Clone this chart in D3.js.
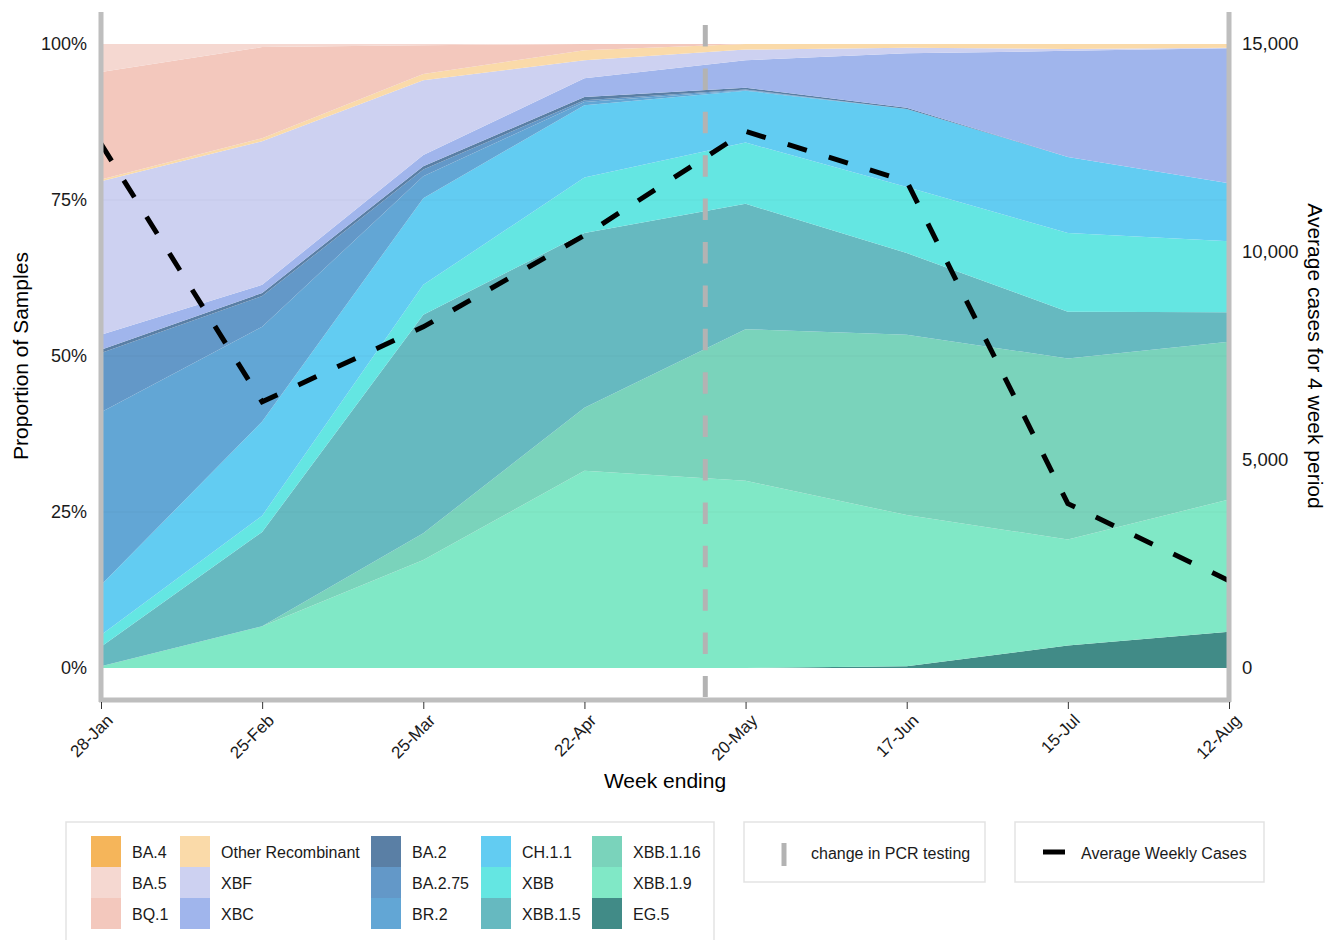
<!DOCTYPE html>
<html>
<head>
<meta charset="utf-8">
<script src="https://cdn.jsdelivr.net/npm/d3@7"></script>
<style>
  body { margin: 0; background: #fff; }
  svg { font-family: "Liberation Sans", Arial, sans-serif; }
</style>
</head>
<body>
<div id="chart"></div>
<script>
// Data
const weeks = ['2023-01-28', '2023-02-25', '2023-03-25', '2023-04-22', '2023-05-20', '2023-06-17', '2023-07-15', '2023-08-12'];
const pcr_change = '2023-05-13';

// legend order (top of stack first)
const variants = ['BA.4', 'BA.5', 'BQ.1', 'Other Recombinant', 'XBF', 'XBC', 'BA.2', 'BA.2.75', 'BR.2', 'CH.1.1', 'XBB', 'XBB.1.5', 'XBB.1.16', 'XBB.1.9', 'EG.5'];
const colours = ['#f5b55a', '#f5d8d1', '#f3c8bd', '#fadaa9', '#cdd1f1', '#a0b5ec', '#5a7fa5', '#6398c8', '#62a6d5', '#62ccf2', '#64e6e2', '#66b9c0', '#7ad3bb', '#80e8c6', '#418b87'];

// share of samples (%) per week
const ba4     = [0, 0, 0, 0, 0, 0, 0, 0];
const ba5     = [4.5, 0.5, 0.2, 0, 0, 0, 0, 0];
const bq1     = [17.2, 14.6, 4.6, 1.0, 0, 0, 0, 0];
const other   = [0.3, 0.5, 1.0, 1.6, 0.9, 0.6, 0.8, 0.6];
const xbf     = [24.6, 23.0, 12.0, 2.9, 1.7, 0.9, 0.3, 0.1];
const xbc     = [2.4, 1.3, 1.8, 3.0, 4.4, 8.7, 17.0, 21.6];
const ba2     = [0.5, 0.5, 0.5, 0.5, 0.3, 0.2, 0, 0];
const ba275   = [9.5, 4.9, 1.1, 0.3, 0.1, 0, 0, 0];
const br2     = [27.7, 15.2, 3.5, 0.5, 0.1, 0, 0, 0];
const ch11    = [8.0, 15.1, 13.9, 11.6, 8.3, 12.5, 12.2, 9.3];
const xbb     = [1.9, 2.6, 4.8, 8.9, 9.8, 10.6, 12.6, 11.4];
const xbb15   = [3.1, 15.1, 35.0, 28.0, 20.1, 13.1, 7.5, 4.7];
const xbb116  = [0, 0, 4.3, 10.1, 24.3, 28.9, 29.0, 25.3];
const xbb19   = [0.3, 6.7, 17.3, 31.6, 30.0, 24.2, 17.0, 21.2];
const eg5     = [0, 0, 0, 0, 0, 0.3, 3.6, 5.8];

const shares = [ba4, ba5, bq1, other, xbf, xbc, ba2, ba275, br2, ch11, xbb, xbb15, xbb116, xbb19, eg5];

const cases = [12600, 6400, 8200, 10400, 12900, 11700, 3950, 2100];

const y_ticks = [0, 0.25, 0.5, 0.75, 1];
const y2_ticks = [0, 5000, 10000, 15000];

const chart_width = 1326;
const chart_height = 940;

const parse = d3.timeParse('%Y-%m-%d');
const fmt = d3.timeFormat('%-d-%b');

const table = weeks.map((w, i) => {
    const row = { date: parse(w) };
    variants.forEach((v, j) => row[v] = shares[j][i] / 100);
    return row;
});

const svg = d3.select('#chart')
    .append('svg')
    .attr('width', chart_width)
    .attr('height', chart_height);

// Scales
const x_scale = d3.scaleTime()
    .domain(d3.extent(table, d => d.date))
    .range([101, 1229]);

const y_scale = d3.scaleLinear()
    .domain([0, 1])
    .range([668, 44]);

const y2_scale = d3.scaleLinear()
    .domain([0, 15000])
    .range([668, 44]);

// Stacked areas (EG.5 at the bottom)
const stack = d3.stack().keys(variants.slice().reverse());
const layers = stack(table);
const colour = d3.scaleOrdinal().domain(variants).range(colours);

const area = d3.area()
    .x(d => x_scale(d.data.date))
    .y0(d => y_scale(d[0]))
    .y1(d => y_scale(d[1]));

svg.append('g')
    .selectAll('path')
    .data(layers)
    .enter()
    .append('path')
    .attr('d', area)
    .attr('fill', d => colour(d.key));

// faint grid
svg.append('g')
    .selectAll('line')
    .data([0.25, 0.5, 0.75])
    .enter()
    .append('line')
    .attr('x1', 101).attr('x2', 1229)
    .attr('y1', d => y_scale(d)).attr('y2', d => y_scale(d))
    .attr('stroke', '#000')
    .attr('stroke-opacity', 0.03);

// change in PCR testing
svg.append('line')
    .attr('x1', x_scale(parse(pcr_change)))
    .attr('x2', x_scale(parse(pcr_change)))
    .attr('y1', 25)
    .attr('y2', 697)
    .attr('stroke', '#b3b3b3')
    .attr('stroke-width', 5)
    .attr('stroke-dasharray', '21.5,21.9');

// Average weekly cases
const line = d3.line()
    .x((d, i) => x_scale(table[i].date))
    .y(d => y2_scale(d));

svg.append('path')
    .datum(cases)
    .attr('d', line)
    .attr('fill', 'none')
    .attr('stroke', '#000')
    .attr('stroke-width', 5)
    .attr('stroke-dasharray', '20,23');

// Axes frame
const frame = svg.append('g')
    .attr('stroke', '#bebebe')
    .attr('stroke-width', 5);
frame.append('line').attr('x1', 101).attr('x2', 101).attr('y1', 12).attr('y2', 702);
frame.append('line').attr('x1', 1229).attr('x2', 1229).attr('y1', 12).attr('y2', 702);
frame.append('line').attr('x1', 99).attr('x2', 1231).attr('y1', 700).attr('y2', 700);

// X axis
const x_axis = d3.axisBottom(x_scale)
    .tickValues(table.map(d => d.date))
    .tickFormat(fmt)
    .tickSize(7)
    .tickSizeOuter(0);

const gx = svg.append('g')
    .attr('transform', 'translate(0, 702)')
    .call(x_axis);
gx.select('.domain').remove();
gx.selectAll('.tick line').attr('stroke', '#333');
gx.selectAll('.tick text')
    .attr('font-size', 17)
    .attr('fill', '#1a1a1a')
    .attr('text-anchor', 'end')
    .attr('transform', 'translate(1, 8) rotate(-45)')
    .attr('dy', '0.6em')
    .attr('y', 6);

// Left axis
const y_axis = d3.axisLeft(y_scale)
    .tickValues(y_ticks)
    .tickFormat(d3.format('.0%'))
    .tickSize(0)
    .tickPadding(14);

const gy = svg.append('g')
    .attr('transform', 'translate(101, 0)')
    .call(y_axis);
gy.select('.domain').remove();
gy.selectAll('text').attr('font-size', 18).attr('fill', '#1a1a1a');

// Right axis
const y2_axis = d3.axisRight(y2_scale)
    .tickValues(y2_ticks)
    .tickFormat(d3.format(','))
    .tickSize(0)
    .tickPadding(13);

const gy2 = svg.append('g')
    .attr('transform', 'translate(1229, 0)')
    .call(y2_axis);
gy2.select('.domain').remove();
gy2.selectAll('text').attr('font-size', 18.5).attr('fill', '#1a1a1a');

// Titles
svg.append('text')
    .attr('x', 665).attr('y', 788)
    .attr('text-anchor', 'middle')
    .attr('font-size', 21)
    .attr('fill', '#000')
    .text('Week ending');

svg.append('text')
    .attr('transform', 'translate(28, 356) rotate(-90)')
    .attr('text-anchor', 'middle')
    .attr('font-size', 21)
    .attr('fill', '#000')
    .text('Proportion of Samples');

svg.append('text')
    .attr('transform', 'translate(1308, 356) rotate(90)')
    .attr('text-anchor', 'middle')
    .attr('font-size', 21)
    .attr('fill', '#000')
    .text('Average cases for 4 week period');

// Legend: variants
const legend = svg.append('g');
legend.append('rect')
    .attr('x', 66).attr('y', 822)
    .attr('width', 648).attr('height', 130)
    .attr('fill', '#fff')
    .attr('stroke', '#e3e3e3')
    .attr('stroke-width', 1.5);

const col_x = [91, 180, 371, 481, 592];
const item = legend.selectAll('g.item')
    .data(variants)
    .enter()
    .append('g')
    .attr('class', 'item')
    .attr('transform', (d, i) => `translate(${col_x[Math.floor(i / 3)]}, ${836 + (i % 3) * 31})`);

item.append('rect')
    .attr('width', 30)
    .attr('height', 31)
    .attr('fill', d => colour(d));

item.append('text')
    .attr('x', 41)
    .attr('y', 16)
    .attr('dy', '0.35em')
    .attr('font-size', 16)
    .attr('fill', '#1a1a1a')
    .text(d => d);

// Legend: PCR
svg.append('rect')
    .attr('x', 744).attr('y', 822)
    .attr('width', 241).attr('height', 60)
    .attr('fill', '#fff')
    .attr('stroke', '#e3e3e3')
    .attr('stroke-width', 1.5);
svg.append('line')
    .attr('x1', 784).attr('x2', 784)
    .attr('y1', 843).attr('y2', 866)
    .attr('stroke', '#b3b3b3')
    .attr('stroke-width', 5);
svg.append('text')
    .attr('x', 811).attr('y', 853)
    .attr('dy', '0.35em')
    .attr('font-size', 16)
    .attr('fill', '#1a1a1a')
    .text('change in PCR testing');

// Legend: cases
svg.append('rect')
    .attr('x', 1015).attr('y', 822)
    .attr('width', 249).attr('height', 60)
    .attr('fill', '#fff')
    .attr('stroke', '#e3e3e3')
    .attr('stroke-width', 1.5);
svg.append('line')
    .attr('x1', 1043).attr('x2', 1065)
    .attr('y1', 852).attr('y2', 852)
    .attr('stroke', '#000')
    .attr('stroke-width', 5);
svg.append('text')
    .attr('x', 1081).attr('y', 853)
    .attr('dy', '0.35em')
    .attr('font-size', 16)
    .attr('fill', '#1a1a1a')
    .text('Average Weekly Cases');
</script>
</body>
</html>
